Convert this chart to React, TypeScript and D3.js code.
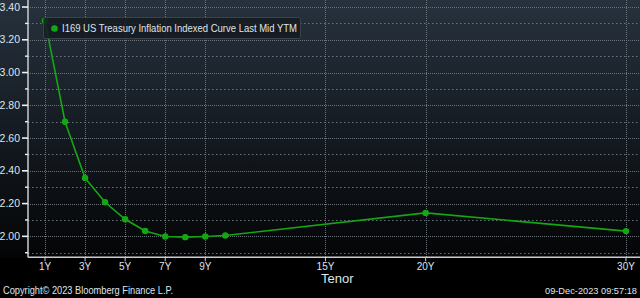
import React from "react";
import * as d3 from "d3";

const tenors = [1, 2, 3, 4, 5, 6, 7, 8, 9, 10, 20, 30];
const yields = [3.316, 2.7, 2.356, 2.208, 2.104, 2.033, 1.999, 1.995, 1.999, 2.005, 2.143, 2.032];
const xTickValues = [1, 3, 5, 7, 9, 15, 20, 30];
const xTickLabels = ["1Y", "3Y", "5Y", "7Y", "9Y", "15Y", "20Y", "30Y"];
const yMajorTicks = [2.0, 2.2, 2.4, 2.6, 2.8, 3.0, 3.2, 3.4];
const yMinorTicks = [1.9, 2.1, 2.3, 2.5, 2.7, 2.9, 3.1, 3.3];
const seriesName = "I169 US Treasury Inflation Indexed Curve Last Mid YTM";
const xAxisTitle = "Tenor";
const copyright = "Copyright\u00A9 2023 Bloomberg Finance L.P.";
const timestamp = "09-Dec-2023 09:57:18";

const W = 640;
const H = 298;
const left = 28;
const bottom = 257.3;

export default function App() {
  const x = d3.scaleLinear().domain([1, 30]).range([45, 626]);
  const y = d3.scaleLinear().domain([1.872, 3.443]).range([bottom, 0]);
  const pts = tenors.map((t, i) => [x(t), y(yields[i])] as [number, number]);
  const line = d3.line()(pts) || "";
  const green = "#13a813";
  const font = "'Liberation Sans', Arial, sans-serif";
  const grid = "#6c7279";
  const txt = "#dfe5ec";

  return (
    <div style={{ position: "fixed", left: 0, top: 0, width: W, height: H }}>
      <svg width={W} height={H} style={{ display: "block" }} fontFamily={font}>
        <defs>
          <linearGradient id="bg" x1="0" y1="0" x2="0" y2="1">
            <stop offset="0" stopColor="#27323e" />
            <stop offset="0.5" stopColor="#151b22" />
            <stop offset="1" stopColor="#040506" />
          </linearGradient>
        </defs>
        <rect x={0} y={0} width={W} height={H} fill="#000" />
        <rect x={0} y={0} width={W} height={bottom} fill="url(#bg)" />

        {/* horizontal grid */}
        {yMinorTicks.map((v) => (
          <line key={"mn" + v} x1={left} x2={W} y1={Math.round(y(v)) + 0.5} y2={Math.round(y(v)) + 0.5}
            stroke={grid} strokeWidth={1} strokeDasharray="1.5,2.5" />
        ))}
        {yMajorTicks.map((v) => (
          <line key={"mj" + v} x1={left} x2={W} y1={Math.round(y(v)) + 0.5} y2={Math.round(y(v)) + 0.5}
            stroke={grid} strokeWidth={1} strokeDasharray="1,1" />
        ))}
        {/* vertical grid */}
        {xTickValues.map((v) => (
          <line key={"vg" + v} x1={Math.round(x(v)) + 0.5} x2={Math.round(x(v)) + 0.5} y1={0} y2={bottom}
            stroke={grid} strokeWidth={1} strokeDasharray="1,1" />
        ))}

        {/* axes */}
        <line x1={left} x2={left} y1={0} y2={bottom} stroke="#c9cdd2" strokeWidth={1.5} />
        <line x1={left} x2={W} y1={bottom} y2={bottom} stroke="#c9cdd2" strokeWidth={1.5} />

        {/* y ticks */}
        {yMajorTicks.map((v) => (
          <g key={"yt" + v}>
            <line x1={22} x2={left} y1={y(v)} y2={y(v)} stroke="#f0f0f0" strokeWidth={1.6} />
            <text x={20} y={y(v)} dy="0.35em" textAnchor="end" fill={txt} fontSize={10.5}>
              {d3.format(".2f")(v)}
            </text>
          </g>
        ))}
        {yMinorTicks.map((v) => (
          <line key={"ym" + v} x1={25} x2={left} y1={y(v)} y2={y(v)} stroke="#f0f0f0" strokeWidth={1.4} />
        ))}

        {/* x ticks */}
        {xTickValues.map((v, i) => (
          <g key={"xt" + v}>
            <line x1={x(v)} x2={x(v)} y1={bottom} y2={bottom + 4} stroke="#c9cdd2" strokeWidth={1} />
            <text x={x(v)} y={270} textAnchor="middle" fill={txt} fontSize={10}>
              {xTickLabels[i]}
            </text>
          </g>
        ))}
        <text x={321} y={283} fill={txt} fontSize={13}>{xAxisTitle}</text>

        {/* series */}
        <path d={line} fill="none" stroke={green} strokeWidth={1.6} />
        {pts.map((p, i) => (
          <circle key={"pt" + i} cx={p[0]} cy={p[1]} r={3.2} fill={green} />
        ))}

        {/* legend */}
        <rect x={43.5} y={17.5} width={257} height={21} rx={2} fill="#141a20" fillOpacity={0.85} stroke="#3b4148" />
        <circle cx={54.5} cy={28.5} r={3.3} fill={green} />
        <text x={62} y={28.5} dy="0.35em" fill={txt} fontSize={11} textLength={235} lengthAdjust="spacingAndGlyphs">{seriesName}</text>

        {/* footer */}
        <text x={3} y={294} fill={txt} fontSize={10.5} textLength={170} lengthAdjust="spacingAndGlyphs">{copyright}</text>
        <text x={637} y={294} textAnchor="end" fill={txt} fontSize={9.5} textLength={92} lengthAdjust="spacingAndGlyphs">{timestamp}</text>
      </svg>
    </div>
  );
}
